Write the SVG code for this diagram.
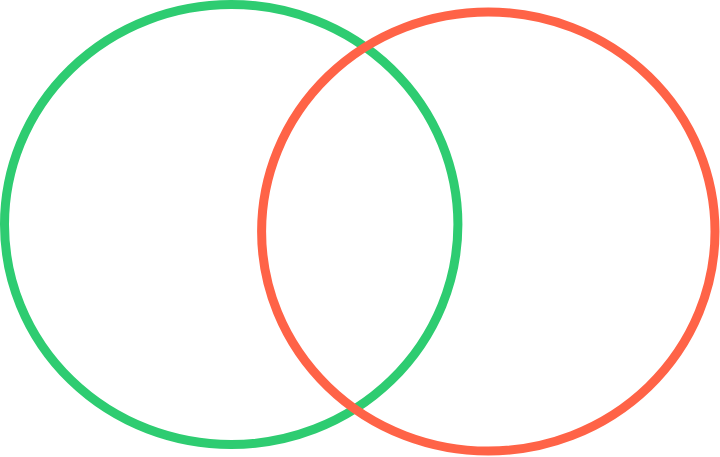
<svg xmlns="http://www.w3.org/2000/svg" width="720" height="457" viewBox="0 0 720 457">
<style>
.ring{fill:none;stroke-width:9}
</style>
<rect width="720" height="457" fill="#ffffff"/>
<g id="green-set"><ellipse class="ring" cx="231.2" cy="224.5" rx="226.7" ry="220" stroke="#2ecc71"/></g>
<g id="red-set"><ellipse class="ring" cx="488.3" cy="231.5" rx="226.7" ry="219.5" stroke="#ff6347"/></g>
<g id="connectors"></g>
</svg>
